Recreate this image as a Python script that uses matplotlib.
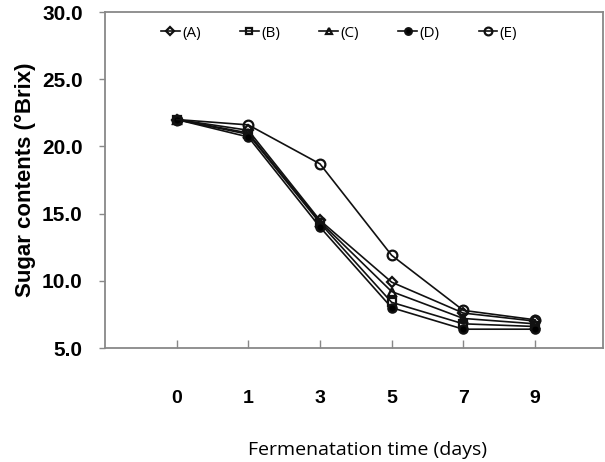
import matplotlib
matplotlib.use("Agg")
import matplotlib.pyplot as plt

days = ["0", "1", "3", "5", "7", "9"]
series_names = ["(A)", "(B)", "(C)", "(D)", "(E)"]
A = [22.0, 21.2, 14.5, 9.9, 7.6, 7.0]
B = [22.0, 20.9, 14.3, 8.4, 6.8, 6.6]
C = [22.0, 21.0, 14.4, 9.2, 7.2, 6.8]
D = [22.0, 20.7, 14.0, 8.0, 6.4, 6.4]
E = [22.0, 21.6, 18.7, 11.9, 7.8, 7.1]
values = [A, B, C, D, E]
markers = ["D", "s", "^", "o", "o"]
fills = ["none", "none", "none", "black", "none"]
msizes = [5, 6, 6, 6, 7]

fig = plt.figure(figsize=(6.05, 4.62), dpi=100)
ax = fig.add_axes([105/605, 1-348/462, (603-105)/605, (348-12)/462])

x = list(range(len(days)))
for name, vals, m, fc, ms in zip(series_names, values, markers, fills, msizes):
    ax.plot(x, vals, color="#111111", lw=1.2, marker=m, mfc=fc, mec="#111111",
            mew=1.6, ms=ms, label=name)

ax.set_xlim(-1, 5.95)
ax.set_ylim(5, 30)
ax.set_xticks(x)
ax.set_xticklabels(days, fontsize=14, fontweight="bold", family="Liberation Sans")
ax.set_yticks([5, 10, 15, 20, 25, 30])
ax.set_yticklabels(["5.0", "10.0", "15.0", "20.0", "25.0", "30.0"],
                   fontsize=15, fontweight="bold", family="Liberation Sans")
ax.tick_params(axis="x", direction="in", length=6, width=1, color="#888888", pad=30)
ax.tick_params(axis="y", direction="out", length=4, width=1, color="#888888", pad=12)
for s in ax.spines.values():
    s.set_color("#888888")
    s.set_linewidth(1.3)

ax.set_ylabel("Sugar contents (°Brix)", fontsize=16, fontweight="bold",
              family="Liberation Sans", labelpad=4)
fig.text(368/605, 1-450/462, "Fermenatation time (days)", fontsize=14,
         family="Open Sans", ha="center", va="center")

leg = ax.legend(loc="upper center", bbox_to_anchor=(0.47, 1.0), ncol=5, frameon=False,
                handlelength=1.2, handletextpad=0.15, columnspacing=2.6,
                prop={"family": "Open Sans", "size": 11},
                markerscale=0.8)

fig.savefig("out.png", dpi=100)
